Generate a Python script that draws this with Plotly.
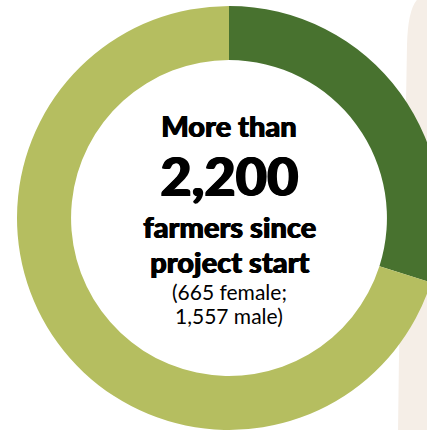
import plotly.graph_objects as go

# farmers reached since project start
labels = ['Female', 'Male']
values = [665, 1557]
colors = ['#48722F', '#B5BE60']

headline = ['More than', '2,200', 'farmers since', 'project start']
detail = ['(665 female;', '1,557 male)']

W, H = 458, 430


def px_x(x):
    return x / W


def px_y(y):
    return 1 - y / H


fig = go.Figure(go.Pie(
    labels=labels,
    values=values,
    hole=0.745,
    sort=False,
    direction='clockwise',
    rotation=0,
    textinfo='none',
    hoverinfo='label+value',
    marker=dict(colors=colors, line=dict(width=0)),
    showlegend=False,
    domain=dict(x=[px_x(17), px_x(441)], y=[px_y(430), px_y(6)]),
))

# beige backdrop peeking out on the right
path = 'M {},{} Q {},{} {},{} L {},{} Q {},{} {},{} L {},{} L {},{} Z'.format(
    px_x(422), px_y(-4), px_x(408), px_y(2), px_x(407), px_y(45),
    px_x(405), px_y(160), px_x(399), px_y(300), px_x(398), px_y(436),
    px_x(470), px_y(436), px_x(470), px_y(-4))
fig.add_shape(type='path', path=path, xref='paper', yref='paper',
              fillcolor='#F5EEE7', line=dict(width=0), layer='below')

# centre text, one annotation per line
# (a thin shadow thickens the strokes towards the heavy display face)
bold = 'Lato Black, Lato, sans-serif'
heavy = '0.7px 0 0 #000, -0.3px 0 0 #000'
heavier = '1.2px 0 0 #000, -0.6px 0 0 #000'
lines = [
    (headline[0], 125, 29, bold, 900, heavy),
    (headline[1], 175, 54, bold, 900, heavier),
    (headline[2], 226, 29, bold, 900, heavy),
    (headline[3], 261, 29, bold, 900, heavy),
    (detail[0], 291, 21, 'Lato, sans-serif', 400, 'none'),
    (detail[1], 315, 21, 'Lato, sans-serif', 400, 'none'),
]
for text, y, size, family, weight, shadow in lines:
    fig.add_annotation(
        text=text, x=px_x(229), y=px_y(y), xref='paper', yref='paper',
        showarrow=False, xanchor='center', yanchor='middle',
        font=dict(family=family, size=size, color='#000000', weight=weight,
                  shadow=shadow),
    )

fig.update_layout(
    width=W, height=H,
    margin=dict(l=0, r=0, t=0, b=0),
    paper_bgcolor='white',
    plot_bgcolor='white',
)

# drop the default page margin so the ring sits flush with the window
fig.write_html("out.html", config={'displayModeBar': False}, post_script=(
    "document.body.style.margin='0';"
    "document.body.style.overflow='hidden';"
))
